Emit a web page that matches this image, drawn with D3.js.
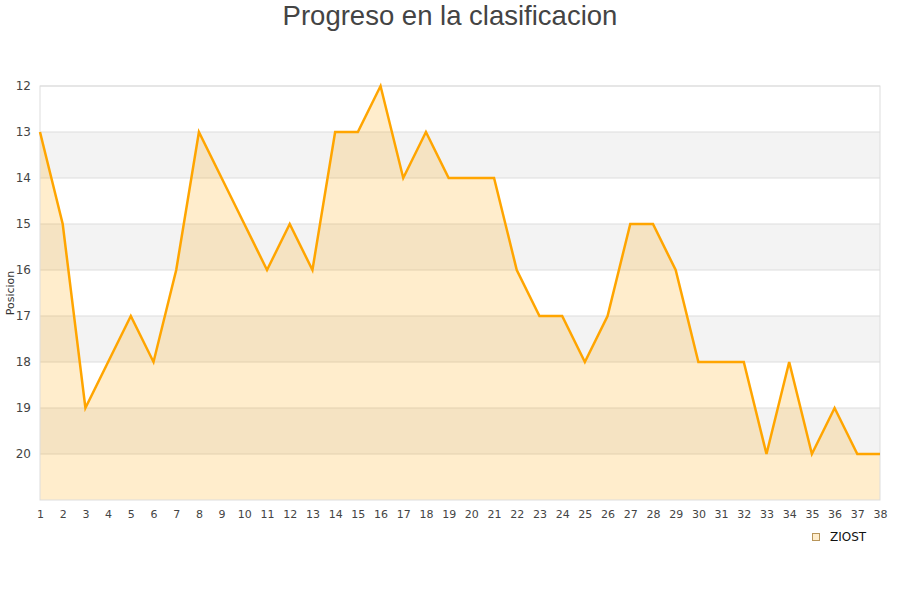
<!DOCTYPE html>
<html>
<head>
<meta charset="utf-8">
<script src="https://cdn.jsdelivr.net/npm/d3@7"></script>
<style>
  body { margin: 0; background: #fff; }
  text { font-family: "DejaVu Sans", Verdana, sans-serif; }
</style>
</head>
<body>
<div id="chart"></div>
<script>
// jornadas and position in the table
var jornadas = d3.range(1, 39);
var posiciones = [13, 15, 19, 18, 17, 18, 16, 13, 14, 15, 16, 15, 16, 13, 13, 12, 14, 13, 14, 14,
  14, 16, 17, 17, 18, 17, 15, 15, 16, 18, 18, 18, 20, 18, 20, 19, 20, 20];
var yTicks = [12, 13, 14, 15, 16, 17, 18, 19, 20];
var bandas = [13, 15, 17, 19];
var serie = "ZIOST";

var width = 900, height = 600;
var margin = { top: 86, right: 20, bottom: 100, left: 40 };
var w = width - margin.left - margin.right;
var h = height - margin.top - margin.bottom;

var svg = d3.select("#chart")
  .append("svg")
  .attr("width", width)
  .attr("height", height);

svg.append("text")
  .attr("x", width / 2)
  .attr("y", 25)
  .attr("text-anchor", "middle")
  .style("font-family", "'Liberation Sans', Arial, sans-serif")
  .style("font-size", "27.5px")
  .attr("fill", "#444")
  .text("Progreso en la clasificacion");

var g = svg.append("g")
  .attr("transform", "translate(" + margin.left + "," + margin.top + ")");

var x = d3.scaleLinear().domain([1, 38]).range([0, w]);
var y = d3.scaleLinear().domain([12, 21]).range([0, h]);

// alternating bands
g.selectAll(".banda")
  .data(bandas)
  .enter()
  .append("rect")
  .attr("x", 0)
  .attr("width", w)
  .attr("y", function (d) { return y(d); })
  .attr("height", function (d) { return y(d + 1) - y(d); })
  .attr("fill", "#f3f3f3");

// grid lines
g.selectAll(".grid")
  .data(yTicks)
  .enter()
  .append("line")
  .attr("x1", 0)
  .attr("x2", w)
  .attr("y1", function (d) { return y(d); })
  .attr("y2", function (d) { return y(d); })
  .attr("stroke", "#dddddd")
  .attr("stroke-width", 1);

var datos = jornadas.map(function (d, i) { return { j: d, p: posiciones[i] }; });

var area = d3.area()
  .x(function (d) { return x(d.j); })
  .y0(h)
  .y1(function (d) { return y(d.p); });

var linea = d3.line()
  .x(function (d) { return x(d.j); })
  .y(function (d) { return y(d.p); });

g.append("path")
  .datum(datos)
  .attr("d", area)
  .attr("fill", "rgba(255,165,0,0.2)");

// frame
g.append("rect")
  .attr("x", 0)
  .attr("y", 0)
  .attr("width", w)
  .attr("height", h)
  .attr("fill", "none")
  .attr("stroke", "#dddddd");

g.append("path")
  .datum(datos)
  .attr("d", linea)
  .attr("fill", "none")
  .attr("stroke", "#ffa500")
  .attr("stroke-width", 2.5)
  .attr("stroke-linejoin", "miter");

// axes
var yAxis = g.append("g")
  .call(d3.axisLeft(y).tickValues(yTicks).tickSize(0).tickPadding(9));
yAxis.select(".domain").remove();
yAxis.selectAll("text").attr("fill", "#444").style("font-size", "12px");

var xAxis = g.append("g")
  .attr("transform", "translate(0," + h + ")")
  .call(d3.axisBottom(x).tickValues(jornadas).tickFormat(d3.format("d")).tickSize(0).tickPadding(10));
xAxis.select(".domain").remove();
xAxis.selectAll("text").attr("fill", "#444").style("font-size", "11px");

svg.append("text")
  .attr("transform", "translate(14," + (margin.top + h / 2) + ") rotate(-90)")
  .attr("text-anchor", "middle")
  .style("font-size", "11px")
  .attr("fill", "#333")
  .text("Posicion");

// legend
svg.append("rect")
  .attr("x", 812.5)
  .attr("y", 533.5)
  .attr("width", 7)
  .attr("height", 7)
  .attr("fill", "#ffedcc")
  .attr("stroke", "#b8955a");

svg.append("text")
  .attr("x", 830)
  .attr("y", 541)
  .style("font-size", "12px")
  .attr("fill", "#111")
  .text(serie);
</script>
</body>
</html>
